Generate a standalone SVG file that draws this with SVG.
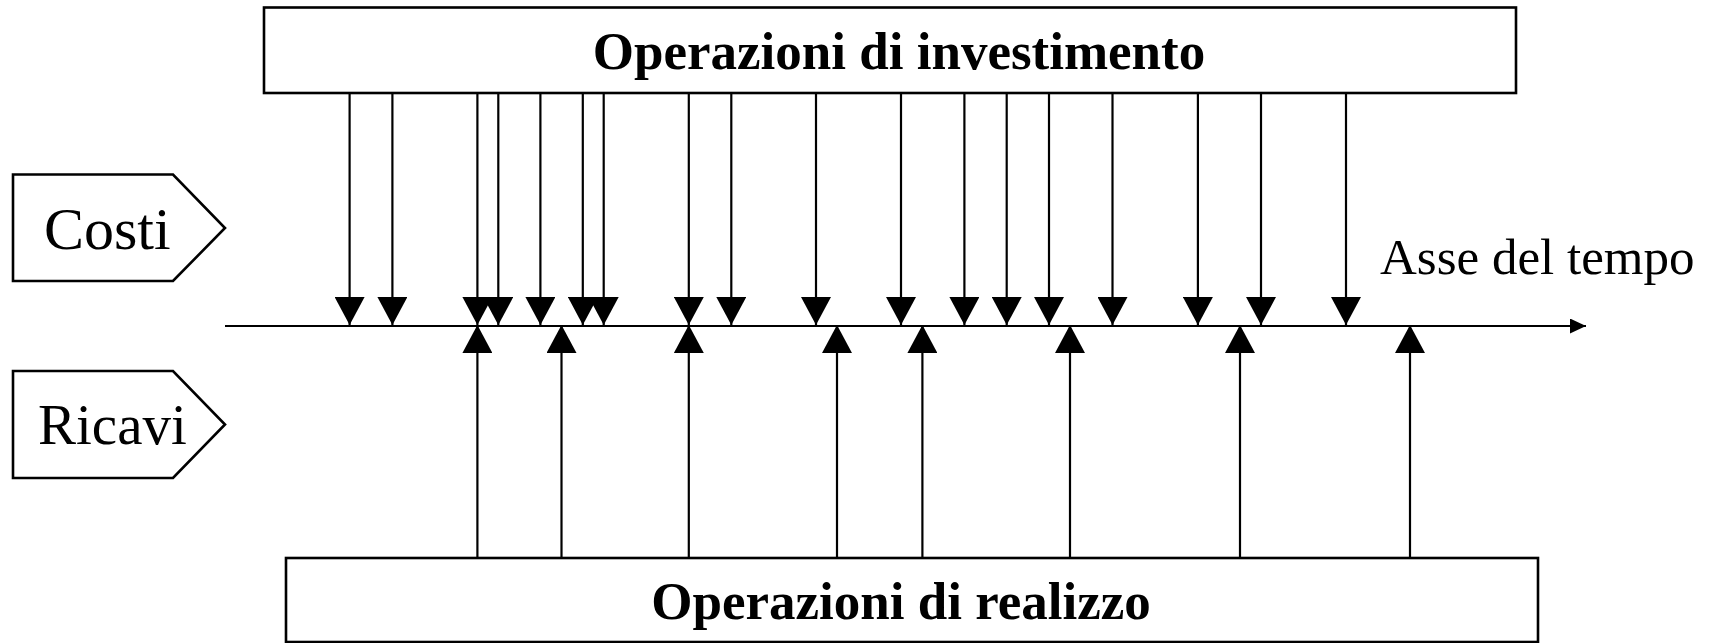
<svg xmlns="http://www.w3.org/2000/svg" width="1714" height="643" viewBox="0 0 1714 643">
<style>
.box{fill:#fff;stroke:#000;stroke-width:2.6}
.tb{font-family:"Liberation Serif",serif;font-weight:bold;font-size:53px;fill:#000}
.tr{font-family:"Liberation Serif",serif;font-size:60px;fill:#000}
.ta{font-family:"Liberation Serif",serif;font-size:51px;fill:#000}
.c{stroke:#000;stroke-width:2.2;fill:none;marker-end:url(#ah)}
</style>
<defs>
<marker id="ah" markerUnits="userSpaceOnUse" viewBox="0 0 28 30" refX="28" refY="15" markerWidth="28" markerHeight="30" orient="auto"><path d="M0,0 L28,15 L0,30 Z" fill="#000"/></marker>
<marker id="ax" markerUnits="userSpaceOnUse" viewBox="0 0 16 15" refX="16" refY="7.5" markerWidth="16" markerHeight="15" orient="auto"><path d="M0,0 L16,7.5 L0,15 Z" fill="#000"/></marker>
</defs>
<rect width="1714" height="643" fill="#fff"/>
<g id="investimento">
<rect class="box" x="264" y="7.5" width="1252" height="85.5"/>
<text class="tb" x="899" y="69" text-anchor="middle">Operazioni di investimento</text>
</g>
<g id="realizzo">
<rect class="box" x="286" y="558" width="1252" height="84"/>
<text class="tb" x="901" y="619" text-anchor="middle">Operazioni di realizzo</text>
</g>
<g id="costi">
<polygon class="box" points="13,174.5 173,174.5 225,228 173,281 13,281"/>
<text class="tr" x="44" y="249">Costi</text>
</g>
<g id="ricavi">
<polygon class="box" points="13,371 173,371 225,424.5 173,478 13,478"/>
<text class="tr" x="38" y="444" style="font-size:57px">Ricavi</text>
</g>
<g id="asse">
<line x1="225" y1="326" x2="1586" y2="326" stroke="#000" stroke-width="2" marker-end="url(#ax)"/>
<text class="ta" x="1380" y="274">Asse del tempo</text>
</g>
<g id="connectors">
<line class="c" x1="349.6" y1="93" x2="349.6" y2="325"/>
<line class="c" x1="392.4" y1="93" x2="392.4" y2="325"/>
<line class="c" x1="477.4" y1="93" x2="477.4" y2="325"/>
<line class="c" x1="498.3" y1="93" x2="498.3" y2="325"/>
<line class="c" x1="540.4" y1="93" x2="540.4" y2="325"/>
<line class="c" x1="582.8" y1="93" x2="582.8" y2="325"/>
<line class="c" x1="603.7" y1="93" x2="603.7" y2="325"/>
<line class="c" x1="688.8" y1="93" x2="688.8" y2="325"/>
<line class="c" x1="731.3" y1="93" x2="731.3" y2="325"/>
<line class="c" x1="816" y1="93" x2="816" y2="325"/>
<line class="c" x1="901" y1="93" x2="901" y2="325"/>
<line class="c" x1="964.4" y1="93" x2="964.4" y2="325"/>
<line class="c" x1="1006.7" y1="93" x2="1006.7" y2="325"/>
<line class="c" x1="1049" y1="93" x2="1049" y2="325"/>
<line class="c" x1="1112.5" y1="93" x2="1112.5" y2="325"/>
<line class="c" x1="1197.9" y1="93" x2="1197.9" y2="325"/>
<line class="c" x1="1261" y1="93" x2="1261" y2="325"/>
<line class="c" x1="1346" y1="93" x2="1346" y2="325"/>
<line class="c" x1="477.4" y1="558" x2="477.4" y2="325"/>
<line class="c" x1="561.5" y1="558" x2="561.5" y2="325"/>
<line class="c" x1="688.8" y1="558" x2="688.8" y2="325"/>
<line class="c" x1="837" y1="558" x2="837" y2="325"/>
<line class="c" x1="922.4" y1="558" x2="922.4" y2="325"/>
<line class="c" x1="1070" y1="558" x2="1070" y2="325"/>
<line class="c" x1="1240" y1="558" x2="1240" y2="325"/>
<line class="c" x1="1410" y1="558" x2="1410" y2="325"/>
</g>
</svg>
